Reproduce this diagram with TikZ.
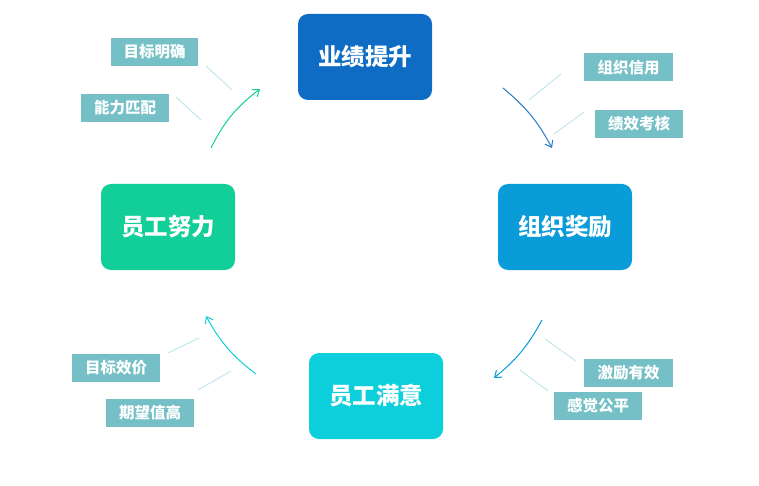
\documentclass[tikz,border=0pt]{standalone}
\usepackage{fontspec}
\newfontfamily\cjk{Noto Sans CJK SC}
\usetikzlibrary{arrows.meta}
\definecolor{cTop}{HTML}{0E6CC4}
\definecolor{cRight}{HTML}{099CD8}
\definecolor{cBottom}{HTML}{0DCFDC}
\definecolor{cLeft}{HTML}{12CE98}
\definecolor{cLab}{HTML}{74C0C6}
\definecolor{cThin}{HTML}{C3E6EC}
\tikzset{
  stage/.style={rounded corners=10pt, minimum width=134pt, minimum height=86pt, inner sep=0pt,
    text=white, font=\cjk\bfseries\fontsize{23.5}{27}\selectfont},
  tag/.style={fill=cLab, minimum width=88pt, minimum height=28pt, inner sep=0pt,
    text=white, font=\cjk\bfseries\fontsize{15.5}{18}\selectfont},
  thin/.style={draw=cThin, line width=1pt},
  flow/.style={line width=1pt, -{Straight Barb[length=6pt,width=9pt,line width=1pt]}},
}
\begin{document}
\begin{tikzpicture}[x=1pt,y=-1pt]
\useasboundingbox (0,0) rectangle (759,486);
% stages
\node[stage, fill=cTop] (top) at (365,57) {业绩提升};
\node[stage, fill=cRight] (right) at (565,227) {组织奖励};
\node[stage, fill=cBottom] (bottom) at (376,396) {员工满意};
\node[stage, fill=cLeft] (left) at (168,227) {员工努力};
% tags
\node[tag, minimum width=87pt] (t1) at (154.5,52) {目标明确};
\node[tag] (t2) at (125,108) {能力匹配};
\node[tag, minimum width=89pt] (t3) at (628.5,67.5) {组织信用};
\node[tag] (t4) at (639,124) {绩效考核};
\node[tag, minimum width=89pt] (t5) at (628.5,373) {激励有效};
\node[tag] (t6) at (598,406) {感觉公平};
\node[tag] (t7) at (116,368) {目标效价};
\node[tag] (t8) at (150,413) {期望值高};
% thin lines
\coordinate (l1a) at (206,66); \coordinate (l1b) at (232,90);
\coordinate (l2a) at (176,97); \coordinate (l2b) at (201,120);
\coordinate (l3a) at (561,74); \coordinate (l3b) at (529,100);
\coordinate (l4a) at (584,112); \coordinate (l4b) at (554,134);
\coordinate (l5a) at (545,339); \coordinate (l5b) at (576,361);
\coordinate (l6a) at (520,370); \coordinate (l6b) at (548,391);
\coordinate (l7a) at (168,353); \coordinate (l7b) at (199,338);
\coordinate (l8a) at (198,390); \coordinate (l8b) at (231,371);
\draw[thin] (l1a) -- (l1b);
\draw[thin] (l2a) -- (l2b);
\draw[thin] (l3a) -- (l3b);
\draw[thin] (l4a) -- (l4b);
\draw[thin] (l5a) -- (l5b);
\draw[thin] (l6a) -- (l6b);
\draw[thin] (l7a) -- (l7b);
\draw[thin] (l8a) -- (l8b);
% flow arrows
\coordinate (g1) at (211,148); \coordinate (g2) at (260,89);
\coordinate (b1) at (503,88); \coordinate (b2) at (552,148);
\coordinate (r1) at (542,320); \coordinate (r2) at (494,378);
\coordinate (c1) at (256,374); \coordinate (c2) at (206,316);
\draw[flow, draw=cLeft] (g1) to[bend left=13] (g2);
\draw[flow, draw=cTop!90!white] (b1) to[bend left=11] (b2);
\draw[flow, draw=cRight] (r1) to[bend left=11] (r2);
\draw[flow, draw=cBottom] (c1) to[bend left=12] (c2);
\end{tikzpicture}
\end{document}
